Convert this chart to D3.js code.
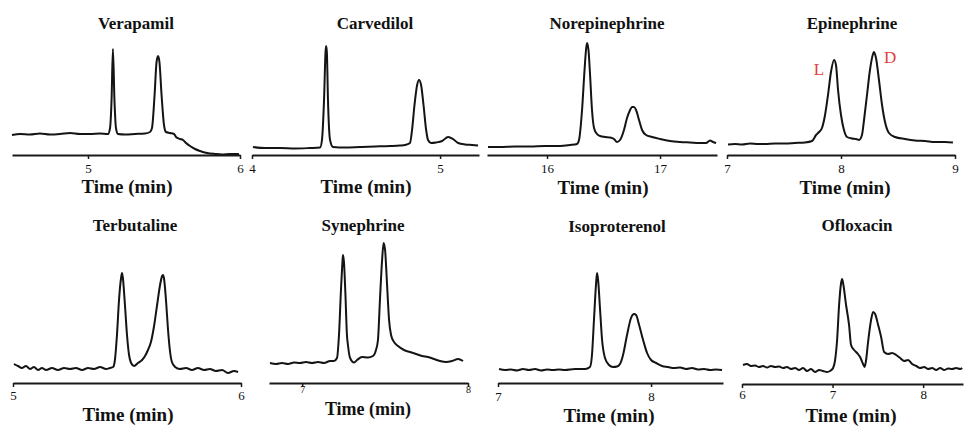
<!DOCTYPE html>
<html><head><meta charset="utf-8">
<script src="https://cdn.jsdelivr.net/npm/d3@7"></script>
<style>
html,body{margin:0;padding:0;background:#fff;}
svg{display:block;}
text{font-family:"Liberation Serif","Times New Roman",serif;fill:#111;}
</style></head><body>
<svg id="chart" width="964" height="426"></svg>
<script>
// ---- data (time in min, detector signal in arbitrary units) ----
const titles = ["Verapamil","Carvedilol","Norepinephrine","Epinephrine","Terbutaline","Synephrine","Isoproterenol","Ofloxacin"];
const axisTitle = "Time (min)";

const verapamil = [[4.500,20],[4.553,21],[4.618,20.5],[4.684,21.5],[4.750,20.5],[4.816,21],[4.882,22],[4.947,21],[5.013,21],[5.079,21.5],[5.132,21],
 [5.145,27],[5.155,55],[5.164,106],[5.174,55],[5.184,27],[5.197,21],[5.243,20.5],[5.309,21],[5.375,21.5],[5.408,23],
 [5.421,27],[5.438,60],[5.451,93],[5.461,99],[5.470,93],[5.484,60],[5.500,30],[5.513,23],
 [5.539,22],[5.566,21],[5.579,18],[5.605,16],[5.625,15],[5.645,12],[5.671,9],[5.704,6],[5.737,4],[5.783,2],[5.836,1],[5.882,0.5],[5.934,1],[5.974,1],[5.993,1]];

const carvedilol = [[4.005,8],[4.069,7],[4.149,7],[4.229,6.5],[4.309,7],[4.362,7.5],[4.372,15],[4.383,55],[4.391,103],[4.394,109],[4.398,103],[4.404,55],[4.415,15],[4.431,8],
 [4.495,7.5],[4.574,8],[4.654,8.5],[4.734,9],[4.787,9.5],[4.814,10],[4.840,12],[4.851,25],[4.864,50],[4.878,70],[4.888,75],[4.899,70],[4.912,50],[4.926,25],[4.936,15],
 [4.952,12],[4.979,12.5],[5.011,14],[5.043,18],[5.069,16],[5.096,12],[5.133,10.5],[5.170,10],[5.202,9.5]];

const norepinephrine = [[15.478,8],[15.584,8],[15.717,8.5],[15.850,8.5],[15.982,9],[16.115,9],[16.204,10],[16.265,11],[16.283,15],[16.310,45],[16.332,85],[16.345,105],[16.354,112],
 [16.367,105],[16.381,80],[16.398,45],[16.416,27],[16.442,21],[16.469,19],[16.513,18],[16.558,17.5],[16.593,16],[16.619,13],[16.646,15],[16.681,25],[16.708,37],[16.735,45],
 [16.752,48],[16.770,48],[16.788,45],[16.814,35],[16.841,25],[16.876,20],[16.929,18],[17.000,16],[17.088,14],[17.177,13],[17.265,12.5],[17.354,12],[17.407,12],[17.442,14.5],[17.469,13],[17.496,12]];

const epinephrine = [[7.009,10.5],[7.070,11],[7.132,10.5],[7.202,11.5],[7.272,11],[7.333,11],[7.421,11.5],[7.509,11.5],[7.596,12],[7.684,12.5],[7.746,14],[7.781,20],[7.807,23],
 [7.833,27],[7.860,40],[7.886,60],[7.912,83],[7.939,95],[7.956,90],[7.974,65],[8.000,40],[8.026,25],[8.053,18],[8.096,16.5],[8.132,16],[8.158,15],[8.184,20],[8.202,35],
 [8.228,60],[8.254,85],[8.281,101],[8.289,103],[8.307,97],[8.333,75],[8.360,50],[8.386,33],[8.421,22],[8.474,18],[8.561,16],[8.649,14.5],[8.737,14],[8.825,13],[8.912,13],[8.982,12.5]];

const terbutaline = [[5.004,19],[5.022,17],[5.039,15],[5.057,17],[5.075,14],[5.092,16],[5.110,13],[5.127,15],[5.145,13],[5.171,15],[5.197,13],[5.224,15],[5.250,14],[5.276,15],
 [5.303,13],[5.329,15],[5.355,14],[5.382,16],[5.408,14],[5.425,15],[5.439,16],[5.447,23],[5.456,48],[5.465,83],[5.474,105],[5.478,110],[5.482,105],[5.491,78],[5.500,48],
 [5.509,28],[5.518,20],[5.531,17],[5.548,20],[5.566,23],[5.579,27],[5.592,33],[5.605,41],[5.618,56],[5.632,78],[5.645,98],[5.654,107],[5.658,108],[5.662,105],[5.671,83],
 [5.680,53],[5.689,31],[5.697,21],[5.711,16],[5.732,14],[5.759,15],[5.785,13],[5.811,15],[5.838,13],[5.864,14],[5.890,12],[5.917,13],[5.943,10],[5.969,12],[5.987,11]];

const synephrine = [[6.806,20],[6.842,19],[6.878,20],[6.915,19],[6.951,20.5],[6.987,20],[7.023,21],[7.059,20],[7.096,21],[7.132,20],[7.168,22],[7.192,22],[7.210,25],[7.222,48],
 [7.234,93],[7.243,121],[7.246,128],[7.252,121],[7.261,88],[7.270,48],[7.276,38],[7.289,25],[7.313,20.5],[7.331,23],[7.361,26],[7.397,25.5],[7.427,27],[7.445,33],[7.457,43],
 [7.469,83],[7.482,123],[7.491,140],[7.500,133],[7.512,98],[7.524,63],[7.536,48],[7.554,41],[7.578,37],[7.614,33],[7.650,31],[7.687,29],[7.723,27],[7.759,26],[7.795,24],
 [7.831,22],[7.868,21],[7.904,22],[7.940,24],[7.970,22]];

const isoproterenol = [[7.007,14],[7.046,13],[7.085,13.5],[7.124,12.5],[7.163,14],[7.203,13],[7.242,14],[7.281,12.5],[7.320,13.5],[7.359,13],[7.399,13.5],[7.438,13],[7.503,14],
 [7.569,14],[7.601,16],[7.614,28],[7.627,63],[7.641,100],[7.647,110],[7.654,103],[7.667,73],[7.680,43],[7.699,25],[7.725,18],[7.752,16],[7.778,16.5],[7.797,19],[7.817,28],
 [7.843,48],[7.869,65],[7.889,69],[7.902,68],[7.922,58],[7.948,43],[7.974,30],[8.000,23],[8.033,20],[8.072,17],[8.111,16],[8.150,15],[8.190,15.5],[8.229,14],[8.268,15],
 [8.307,13.5],[8.346,14],[8.386,13],[8.425,13.5],[8.464,13]];

const ofloxacin = [[6.011,19],[6.055,20],[6.099,18],[6.144,18.5],[6.188,17],[6.232,18],[6.276,16.5],[6.320,18],[6.365,17],[6.409,17.5],[6.453,16],[6.497,17],[6.541,15],[6.586,16],
 [6.630,14],[6.674,16],[6.718,13],[6.762,15],[6.807,12],[6.851,14],[6.895,13],[6.939,12],[6.972,13],[7.006,16],[7.028,24],[7.050,44],[7.072,79],[7.094,101],[7.105,105],
 [7.116,101],[7.149,79],[7.182,59],[7.204,39],[7.238,34],[7.271,31],[7.304,27],[7.337,20],[7.354,17],[7.370,24],[7.392,42],[7.425,64],[7.448,72],[7.470,70],[7.503,59],
 [7.536,47],[7.569,32],[7.613,30],[7.657,31],[7.702,29],[7.746,26],[7.790,23],[7.834,24],[7.878,20],[7.923,18],[7.967,16],[8.011,17],[8.055,15],[8.099,16],[8.144,14],
 [8.188,16],[8.232,14],[8.276,15.5],[8.320,15],[8.365,16],[8.409,15],[8.431,16]];

const seriesList = [verapamil, carvedilol, norepinephrine, epinephrine, terbutaline, synephrine, isoproterenol, ofloxacin];
const tickValues = [[5,6],[4,5],[16,17],[7,8,9],[5,6],[7,8],[7,8],[6,7,8]];
const xDomains = [[4.5,6.0],[4.0,5.207],[15.469,17.504],[7,9],[5,6],[6.8,8],[7,8.47],[6,8.44]];
const yDomain = [0,110];

// enantiomer labels on the Epinephrine panel (time, signal)
const peakLabels = ["L","D"];
const peakLabelPos = [[7.807,80],[8.43,92]];

// ---- layout (pixel positions) ----
const layout = [
 {x0:12, x1:240, ay:155, tx:136, ty:29, lx:127, ly:193, ls:19, tf:13, to:18},
 {x0:252,x1:479, ay:155, tx:375, ty:29, lx:366, ly:193, ls:19, tf:13, to:18},
 {x0:487,x1:717, ay:155, tx:607, ty:29, lx:603, ly:194, ls:19, tf:13, to:18},
 {x0:727,x1:955, ay:155, tx:852, ty:29, lx:845, ly:194, ls:19, tf:13, to:18},
 {x0:13, x1:241, ay:383, tx:135, ty:231, lx:128, ly:421, ls:19, tf:13, to:17},
 {x0:269,x1:468, ay:383, tx:363, ty:231, lx:368, ly:415, ls:18, tf:10, to:10},
 {x0:498,x1:723, ay:383, tx:617, ty:232, lx:609, ly:422, ls:19, tf:13, to:18},
 {x0:742,x1:963, ay:384, tx:857, ty:231, lx:851, ly:422, ls:19, tf:13, to:15}
];

const svg = d3.select("#chart");

layout.forEach((L, i) => {
  const x = d3.scaleLinear().domain(xDomains[i]).range([L.x0, L.x1]);
  const y = d3.scaleLinear().domain(yDomain).range([L.ay, L.ay - 110]);
  const g = svg.append("g");

  // trace
  const line = d3.line().x(d => x(d[0])).y(d => y(d[1])).curve(d3.curveMonotoneX);
  g.append("path").datum(seriesList[i]).attr("d", line)
    .attr("fill","none").attr("stroke","#141414").attr("stroke-width",2)
    .attr("stroke-linejoin","round");

  // axis
  const tickSize = 4;
  const pad = L.to - tickSize - 0.71 * L.tf;
  const ax = g.append("g").attr("transform", `translate(0,${L.ay})`)
    .call(d3.axisBottom(x).tickValues(tickValues[i]).tickSize(tickSize).tickSizeOuter(0)
      .tickPadding(pad).tickFormat(d3.format("d")));
  ax.attr("font-size", L.tf).attr("font-family", null);
  ax.select(".domain").attr("stroke","#1a1a1a").attr("stroke-width",2.2);
  ax.selectAll(".tick line").attr("stroke","#1a1a1a").attr("stroke-width",1.5);
  ax.selectAll(".tick text").attr("fill","#111");

  // title
  g.append("text").attr("x", L.tx).attr("y", L.ty).attr("text-anchor","middle")
    .attr("font-size",17).attr("font-weight","bold").text(titles[i]);

  // axis title
  g.append("text").attr("x", L.lx).attr("y", L.ly).attr("text-anchor","middle")
    .attr("font-size", L.ls).attr("font-weight", "bold").text(axisTitle);

  if (i === 3) {
    peakLabels.forEach((t, k) => {
      g.append("text").attr("x", x(peakLabelPos[k][0])).attr("y", y(peakLabelPos[k][1]))
        .attr("text-anchor","middle").attr("font-size",17)
        .style("fill","#e0403a").text(t);
    });
  }
});
</script>
</body></html>
